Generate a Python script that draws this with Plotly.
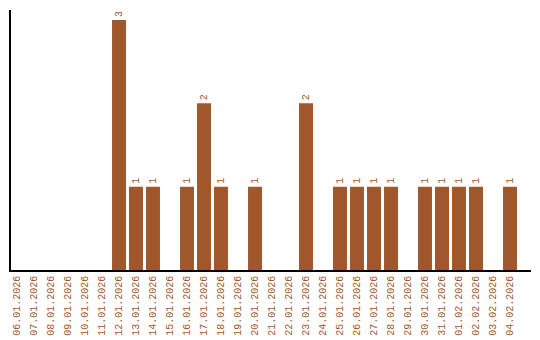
import plotly.graph_objects as go

dates = ["06.01.2026", "07.01.2026", "08.01.2026", "09.01.2026", "10.01.2026",
         "11.01.2026", "12.01.2026", "13.01.2026", "14.01.2026", "15.01.2026",
         "16.01.2026", "17.01.2026", "18.01.2026", "19.01.2026", "20.01.2026",
         "21.01.2026", "22.01.2026", "23.01.2026", "24.01.2026", "25.01.2026",
         "26.01.2026", "27.01.2026", "28.01.2026", "29.01.2026", "30.01.2026",
         "31.01.2026", "01.02.2026", "02.02.2026", "03.02.2026", "04.02.2026"]
counts = [0, 0, 0, 0, 0, 0, 3, 1, 1, 0, 1, 2, 1, 0, 1, 0, 0, 2, 0, 1,
          1, 1, 1, 0, 1, 1, 1, 1, 0, 1]

color = "#A0572B"
texts = [str(c) if c > 0 else "" for c in counts]
font_name = "Liberation Mono"

fig = go.Figure(go.Bar(
    x=list(range(len(dates))), y=counts, text=texts,
    textposition="outside", textangle=-90,
    textfont=dict(family=font_name, size=10, color=color),
    marker=dict(color=color, line=dict(width=0)), width=0.82,
    cliponaxis=False,
))
fig.update_layout(
    width=540, height=340, margin=dict(l=11, r=9, t=10, b=70),
    plot_bgcolor="white", paper_bgcolor="white", showlegend=False,
    font=dict(family=font_name, size=10, color=color),
)
fig.update_xaxes(
    tickmode="array", tickvals=list(range(len(dates))), ticktext=dates,
    tickangle=-90, range=[-0.353, 30.235], showline=True, linecolor="black",
    linewidth=1.5, showgrid=False, zeroline=False, ticks="", automargin=False,
    tickfont=dict(family=font_name, size=10, color=color),
)
fig.update_yaxes(
    range=[0, 3.12], showline=True, linecolor="black", linewidth=1.5,
    showgrid=False, zeroline=False, showticklabels=False, ticks="",
    automargin=False,
)
fig.write_html("out.html")
